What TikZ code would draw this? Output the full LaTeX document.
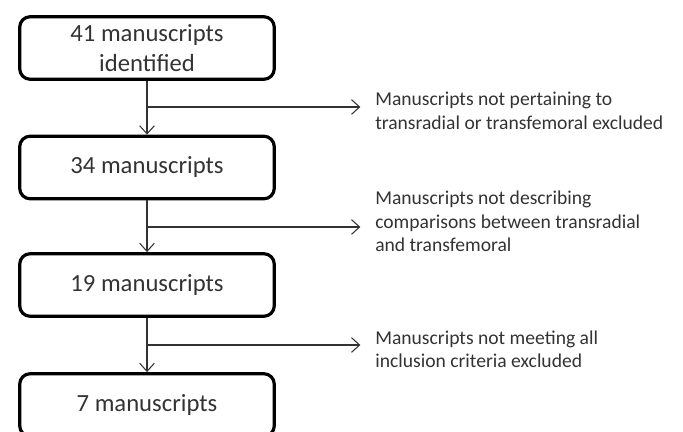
\documentclass[tikz,border=0pt]{standalone}
\usepackage{fontspec}
\setmainfont{Carlito}
\usetikzlibrary{arrows.meta}
\begin{document}
\begin{tikzpicture}[x=0.75pt,y=-0.75pt,>={Straight Barb[length=6pt,width=11pt]}]
\tikzstyle{stage}=[rectangle,rounded corners=8pt,draw=black,line width=2.4pt,minimum width=191pt,minimum height=47pt,align=center,text=black!80,font=\fontsize{18.5}{22.5}\selectfont]
\tikzstyle{excl}=[anchor=west,align=left,inner xsep=0pt,text=black!80,font=\fontsize{14.7}{17.6}\selectfont]
\tikzstyle{flow}=[->,draw=black!80,line width=0.8pt]
\clip (0,0) rectangle (683,432);
\node[stage](N41) at (147,48) {41 manuscripts\\identified};
\node[stage](N34) at (147,167.5) {34 manuscripts};
\node[stage](N19) at (147,285) {19 manuscripts};
\node[stage](N7) at (147,405) {7 manuscripts};

\node[excl](E1) at (375,111) {Manuscripts not pertaining to\\transradial or transfemoral excluded};
\node[excl](E2) at (375,221.5) {Manuscripts not describing\\comparisons between transradial\\and transfemoral};
\node[excl](E3) at (375,349.5) {Manuscripts not meeting all\\inclusion criteria excluded};

\coordinate (J1) at (147,107);
\coordinate (J2) at (147,227);
\coordinate (J3) at (147,345);

\draw[flow] (N41) -- (N34);
\draw[flow] (N34) -- (N19);
\draw[flow] (N19) -- (N7);
\draw[flow,shorten >=11pt] (J1) -- (J1 -| E1.west);
\draw[flow,shorten >=11pt] (J2) -- (J2 -| E2.west);
\draw[flow,shorten >=11pt] (J3) -- (J3 -| E3.west);
\end{tikzpicture}
\end{document}
